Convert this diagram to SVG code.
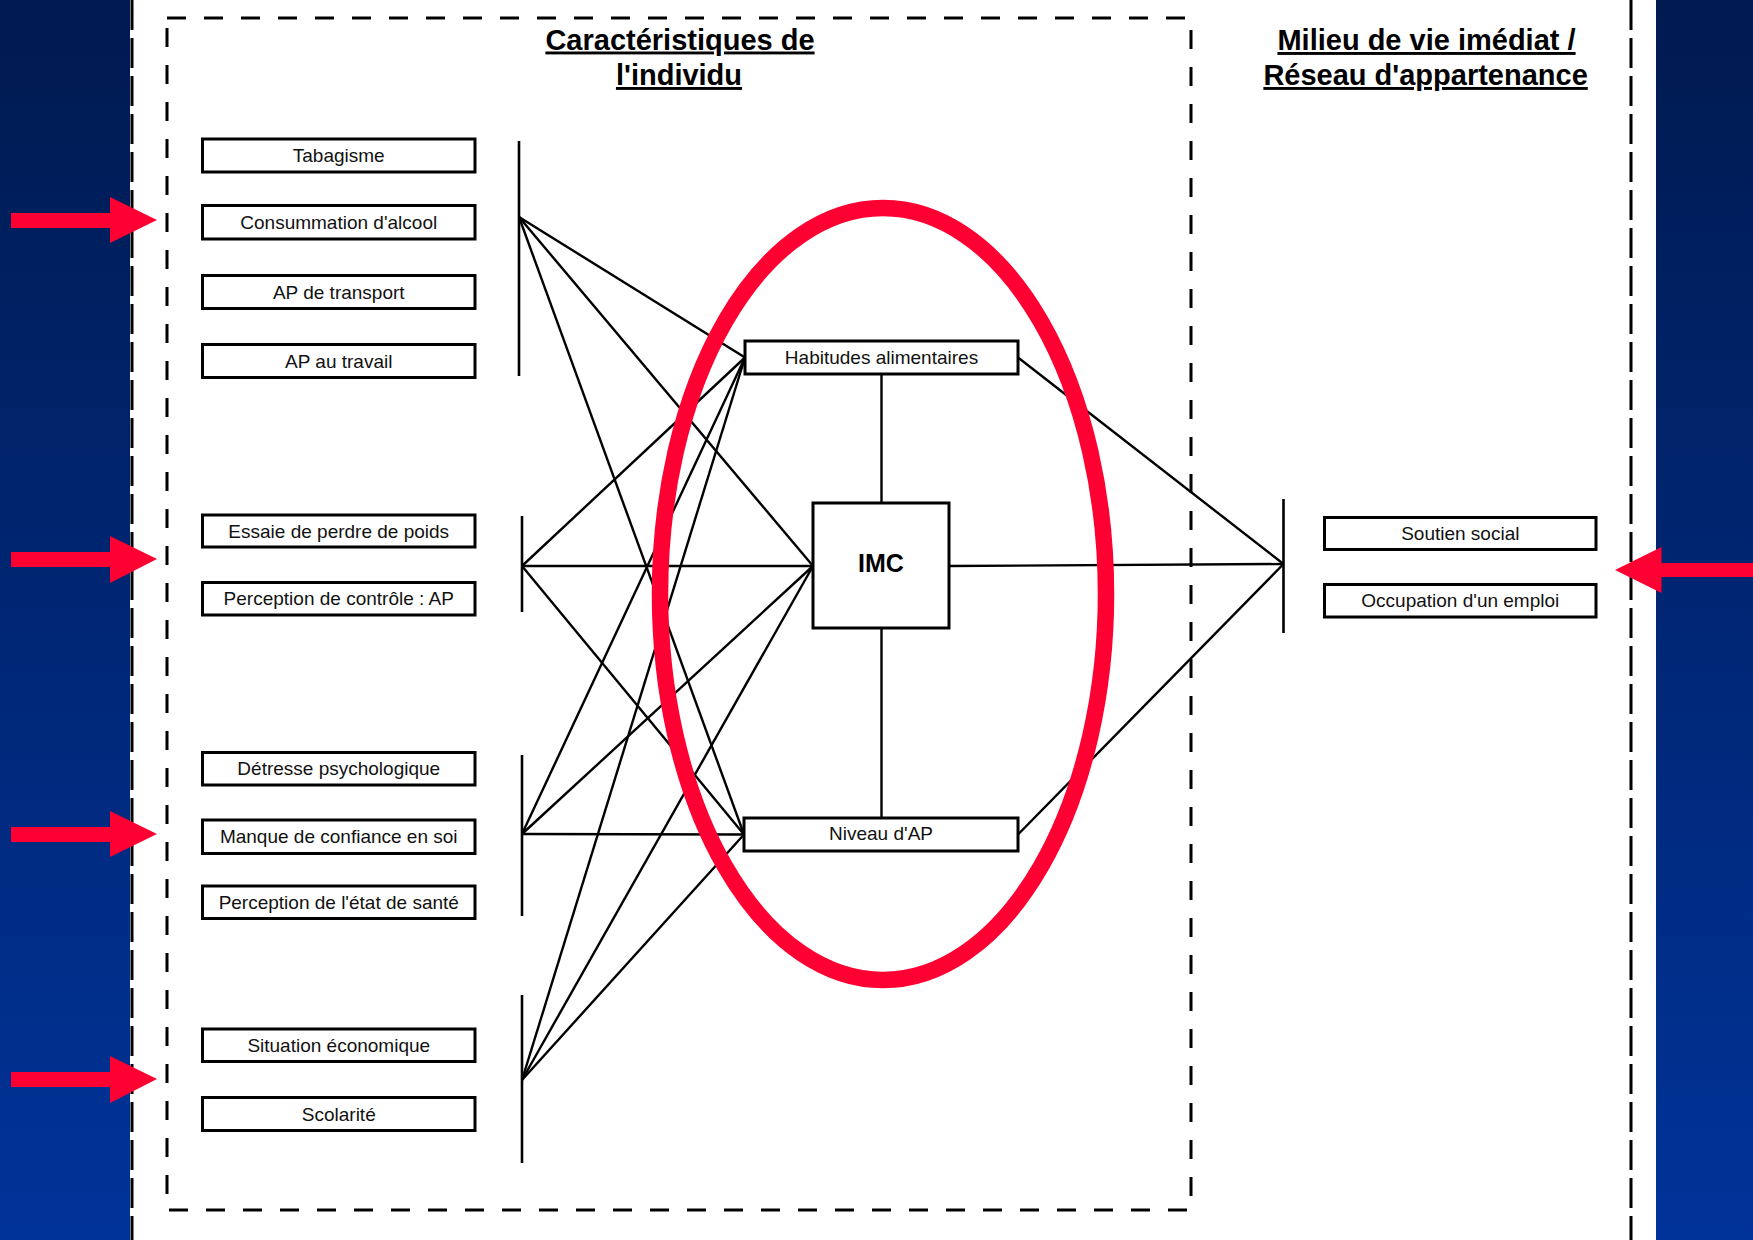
<svg xmlns="http://www.w3.org/2000/svg" width="1753" height="1240" viewBox="0 0 1753 1240">
  <defs>
    <linearGradient id="bg" x1="0" y1="0" x2="0" y2="1">
      <stop offset="0" stop-color="#001a50"/>
      <stop offset="1" stop-color="#003399"/>
    </linearGradient>
    <style>
      .box { fill: #ffffff; stroke: #000000; stroke-width: 3; }
      .lbl { font-family: "Liberation Sans", Arial, sans-serif; font-size: 19px; fill: #111111; text-anchor: middle; }
      .head { font-family: "Liberation Sans", Arial, sans-serif; font-size: 29px; font-weight: bold; fill: #000000; text-anchor: middle; text-decoration: underline; }
      .ln { stroke: #000000; stroke-width: 2.4; fill: none; }
      .bar { stroke: #000000; stroke-width: 2.6; fill: none; }
      .arrow { fill: #ff0033; }
    </style>
  </defs>

  <rect x="0" y="0" width="1753" height="1240" fill="url(#bg)"/>
  <rect x="130" y="0" width="1526" height="1240" fill="#ffffff"/>

  <!-- outer dashed lines -->
  <line x1="132" y1="0" x2="132" y2="1240" stroke="#000" stroke-width="3" stroke-dasharray="30 8"/>
  <line x1="1631" y1="0" x2="1631" y2="1240" stroke="#000" stroke-width="3" stroke-dasharray="30 8"/>

  <!-- inner dashed frame -->
  <rect x="167" y="18" width="1024" height="1192" fill="none" stroke="#000" stroke-width="3" stroke-dasharray="19 18"/>

  <!-- headings -->
  <text class="head" x="680" y="49.5">Caractéristiques de</text>
  <text class="head" x="679" y="85">l'individu</text>
  <text class="head" x="1426.5" y="50">Milieu de vie imédiat /</text>
  <text class="head" x="1425.6" y="85">Réseau d'appartenance</text>

  <!-- connectors -->
  <g id="connectors">
    <line class="bar" x1="519" y1="141" x2="519" y2="376"/>
    <line class="bar" x1="522" y1="516" x2="522" y2="612"/>
    <line class="bar" x1="522" y1="755" x2="522" y2="916"/>
    <line class="bar" x1="522" y1="995" x2="522" y2="1163"/>
    <line class="bar" x1="1283.5" y1="499" x2="1283.5" y2="633"/>

    <line class="ln" x1="519" y1="217" x2="745" y2="357.5"/>
    <line class="ln" x1="519" y1="217" x2="813" y2="566"/>
    <line class="ln" x1="519" y1="217" x2="744" y2="834.5"/>

    <line class="ln" x1="522" y1="566" x2="745" y2="357.5"/>
    <line class="ln" x1="522" y1="566" x2="813" y2="566"/>
    <line class="ln" x1="522" y1="566" x2="744" y2="834.5"/>

    <line class="ln" x1="522" y1="834" x2="745" y2="357.5"/>
    <line class="ln" x1="522" y1="834" x2="813" y2="566"/>
    <line class="ln" x1="522" y1="834" x2="744" y2="834.5"/>

    <line class="ln" x1="522" y1="1080" x2="745" y2="357.5"/>
    <line class="ln" x1="522" y1="1080" x2="813" y2="566"/>
    <line class="ln" x1="522" y1="1080" x2="744" y2="834.5"/>

    <line class="ln" x1="1018" y1="357.5" x2="1283.5" y2="564"/>
    <line class="ln" x1="949" y1="566" x2="1283.5" y2="564"/>
    <line class="ln" x1="1018" y1="834.5" x2="1283.5" y2="564"/>

    <line class="ln" x1="881.5" y1="374" x2="881.5" y2="503"/>
    <line class="ln" x1="881.5" y1="628" x2="881.5" y2="818"/>
  </g>

  <!-- left nodes -->
  <g id="tabagisme"><rect class="box" x="202.5" y="139" width="272.5" height="33"/><text class="lbl" x="338.75" y="162">Tabagisme</text></g>
  <g id="alcool"><rect class="box" x="202.5" y="205.5" width="272.5" height="33.5"/><text class="lbl" x="338.75" y="229">Consummation d'alcool</text></g>
  <g id="ap-transport"><rect class="box" x="202.5" y="275.5" width="272.5" height="33"/><text class="lbl" x="338.75" y="298.5">AP de transport</text></g>
  <g id="ap-travail"><rect class="box" x="202.5" y="344.5" width="272.5" height="33"/><text class="lbl" x="338.75" y="367.5">AP au travail</text></g>

  <g id="perdre-poids"><rect class="box" x="202.5" y="515" width="272.5" height="32"/><text class="lbl" x="338.75" y="537.5">Essaie de perdre de poids</text></g>
  <g id="perception-controle"><rect class="box" x="202.5" y="582.5" width="272.5" height="32.5"/><text class="lbl" x="338.75" y="605">Perception de contrôle : AP</text></g>

  <g id="detresse"><rect class="box" x="202.5" y="752.5" width="272.5" height="32.5"/><text class="lbl" x="338.75" y="775">Détresse psychologique</text></g>
  <g id="confiance"><rect class="box" x="202.5" y="820" width="272.5" height="33.5"/><text class="lbl" x="338.75" y="843">Manque de confiance en soi</text></g>
  <g id="sante"><rect class="box" x="202.5" y="886" width="272.5" height="32.5"/><text class="lbl" x="338.75" y="908.5">Perception de l'état de santé</text></g>

  <g id="economique"><rect class="box" x="202.5" y="1029" width="272.5" height="32.5"/><text class="lbl" x="338.75" y="1051.5">Situation économique</text></g>
  <g id="scolarite"><rect class="box" x="202.5" y="1097.5" width="272.5" height="33"/><text class="lbl" x="338.75" y="1120.5">Scolarité</text></g>

  <!-- center nodes -->
  <g id="habitudes"><rect class="box" x="745" y="341" width="273" height="33"/><text class="lbl" x="881.5" y="363.5">Habitudes alimentaires</text></g>
  <g id="imc"><rect class="box" x="813" y="503" width="136" height="125"/><text x="881" y="572" font-family="Liberation Sans, Arial, sans-serif" font-size="25" font-weight="bold" text-anchor="middle" fill="#000">IMC</text></g>
  <g id="niveau-ap"><rect class="box" x="744" y="818" width="274" height="33"/><text class="lbl" x="881" y="839.5">Niveau d'AP</text></g>

  <!-- right nodes -->
  <g id="soutien"><rect class="box" x="1324.5" y="517.5" width="271.5" height="32"/><text class="lbl" x="1460.3" y="539.5">Soutien social</text></g>
  <g id="emploi"><rect class="box" x="1324.5" y="584.5" width="271.5" height="32.5"/><text class="lbl" x="1460.3" y="606.5">Occupation d'un emploi</text></g>

  <!-- red highlight ellipse -->
  <ellipse cx="883" cy="594" rx="223" ry="386" fill="none" stroke="#ff0033" stroke-width="16.5"/>

  <!-- red arrows -->
  <polygon class="arrow" points="11,213 110,213 110,197 157,220 110,243 110,228 11,228"/>
  <polygon class="arrow" points="11,552 110,552 110,536 157,559 110,583 110,567 11,567"/>
  <polygon class="arrow" points="11,827 110,827 110,811 157,834 110,857 110,842 11,842"/>
  <polygon class="arrow" points="11,1072 110,1072 110,1056 157,1079 110,1103 110,1087 11,1087"/>
  <polygon class="arrow" points="1753,563 1661.5,563 1661.5,547 1615,570 1661.5,593 1661.5,577 1753,577"/>
</svg>
